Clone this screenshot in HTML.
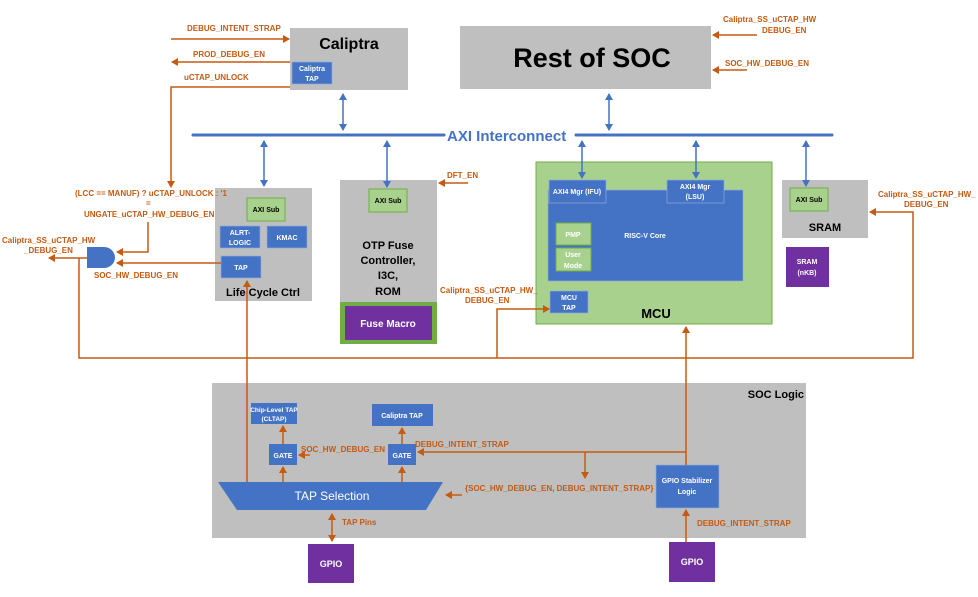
<!DOCTYPE html>
<html><head><meta charset="utf-8"><style>
body{margin:0;background:#fff}
svg{display:block;font-family:"Liberation Sans",sans-serif}
.o{fill:#c55a11;font-size:8px;font-weight:bold}
.w{fill:#fff;font-size:7px;font-weight:bold}
.k{fill:#000;font-size:7px;font-weight:bold}
</style></head><body>
<svg width="978" height="597" viewBox="0 0 978 597" xmlns="http://www.w3.org/2000/svg">
<defs>
<marker id="ao" markerWidth="8" markerHeight="8" refX="6" refY="4" orient="auto" markerUnits="userSpaceOnUse"><path d="M0,0 L7,4 L0,8 z" fill="#c55a11"/></marker>
<marker id="ab" markerWidth="8" markerHeight="8" refX="6" refY="4" orient="auto-start-reverse" markerUnits="userSpaceOnUse"><path d="M0,0 L7,4 L0,8 z" fill="#4472c4"/></marker>
<marker id="ao2" markerWidth="8" markerHeight="8" refX="6" refY="4" orient="auto-start-reverse" markerUnits="userSpaceOnUse"><path d="M0,0 L7,4 L0,8 z" fill="#c55a11"/></marker>
</defs>
<!-- SOC Logic -->
<rect x="212" y="383" width="594" height="155" fill="#bfbfbf"/>
<text x="804" y="398" text-anchor="end" style="font-size:11px;font-weight:bold">SOC Logic</text>
<!-- Caliptra -->
<rect x="290" y="28" width="118" height="62" fill="#bfbfbf"/>
<text x="349" y="49" text-anchor="middle" font-size="16" font-weight="bold">Caliptra</text>
<rect x="292" y="62" width="40" height="22" fill="#4472c4" stroke="#8faadc" stroke-width="0.7"/>
<text x="312" y="71" text-anchor="middle" class="w">Caliptra</text>
<text x="312" y="81" text-anchor="middle" class="w">TAP</text>
<!-- Rest of SOC -->
<rect x="460" y="26" width="251" height="63" fill="#bfbfbf"/>
<text x="592" y="67" text-anchor="middle" font-size="27" font-weight="bold">Rest of SOC</text>
<!-- AXI bus -->
<line x1="193" y1="135" x2="444" y2="135" stroke="#4472c4" stroke-width="3" stroke-linecap="round"/>
<line x1="576" y1="135" x2="832" y2="135" stroke="#4472c4" stroke-width="3" stroke-linecap="round"/>
<text x="447" y="141" font-size="15" font-weight="bold" fill="#4472c4">AXI Interconnect</text>
<!-- LCC -->
<rect x="215" y="188" width="97" height="113" fill="#bfbfbf"/>
<rect x="247" y="198" width="38" height="23" fill="#a9d18e" stroke="#70ad47"/>
<text x="266" y="212" text-anchor="middle" class="k">AXI Sub</text>
<rect x="220" y="226" width="40" height="22" fill="#4472c4" stroke="#8faadc" stroke-width="0.7"/>
<text x="240" y="235" text-anchor="middle" class="w">ALRT-</text>
<text x="240" y="245" text-anchor="middle" class="w">LOGIC</text>
<rect x="267" y="226" width="40" height="22" fill="#4472c4" stroke="#8faadc" stroke-width="0.7"/>
<text x="287" y="240" text-anchor="middle" class="w">KMAC</text>
<rect x="221" y="256" width="40" height="22" fill="#4472c4" stroke="#8faadc" stroke-width="0.7"/>
<text x="241" y="270" text-anchor="middle" class="w">TAP</text>
<text x="263" y="296" text-anchor="middle" font-size="11" font-weight="bold">Life Cycle Ctrl</text>
<!-- OTP -->
<rect x="340" y="180" width="97" height="122" fill="#bfbfbf"/>
<rect x="369" y="189" width="38" height="23" fill="#a9d18e" stroke="#70ad47"/>
<text x="388" y="203" text-anchor="middle" class="k">AXI Sub</text>
<g font-size="11" font-weight="bold" text-anchor="middle"><text x="388" y="249">OTP Fuse</text><text x="388" y="264">Controller,</text><text x="388" y="279">I3C,</text><text x="388" y="295">ROM</text></g>
<rect x="340" y="302" width="97" height="42" fill="#70ad47"/>
<rect x="345" y="306" width="87" height="34" fill="#7030a0"/>
<text x="388" y="327" text-anchor="middle" style="fill:#fff;font-size:10px;font-weight:bold">Fuse Macro</text>
<!-- MCU -->
<rect x="536" y="162" width="236" height="162" fill="#a9d18e" stroke="#70ad47"/>
<rect x="548" y="190" width="195" height="91" fill="#4472c4" stroke="#8faadc" stroke-width="0.7"/>
<rect x="549" y="180" width="57" height="23" fill="#4472c4" stroke="#8faadc" stroke-width="0.7"/>
<text x="577" y="194" text-anchor="middle" class="w">AXI4 Mgr (IFU)</text>
<rect x="667" y="180" width="57" height="23" fill="#4472c4" stroke="#8faadc" stroke-width="0.7"/>
<text x="695" y="189" text-anchor="middle" class="w">AXI4 Mgr</text>
<text x="695" y="199" text-anchor="middle" class="w">(LSU)</text>
<rect x="556" y="223" width="35" height="22" fill="#a9d18e" stroke="#70ad47"/>
<text x="573" y="237" text-anchor="middle" class="w">PMP</text>
<rect x="556" y="248" width="35" height="23" fill="#a9d18e" stroke="#70ad47"/>
<text x="573" y="257" text-anchor="middle" class="w">User</text>
<text x="573" y="268" text-anchor="middle" class="w">Mode</text>
<text x="645" y="238" text-anchor="middle" class="w">RISC-V Core</text>
<rect x="550" y="291" width="38" height="22" fill="#4472c4" stroke="#8faadc" stroke-width="0.7"/>
<text x="569" y="300" text-anchor="middle" class="w">MCU</text>
<text x="569" y="310" text-anchor="middle" class="w">TAP</text>
<text x="656" y="318" text-anchor="middle" font-size="13" font-weight="bold">MCU</text>
<!-- SRAM -->
<rect x="782" y="180" width="86" height="58" fill="#bfbfbf"/>
<rect x="790" y="188" width="38" height="23" fill="#a9d18e" stroke="#70ad47"/>
<text x="809" y="202" text-anchor="middle" class="k">AXI Sub</text>
<text x="825" y="231" text-anchor="middle" font-size="11" font-weight="bold">SRAM</text>
<rect x="786" y="247" width="43" height="40" fill="#7030a0"/>
<text x="807" y="264" text-anchor="middle" class="w">SRAM</text>
<text x="807" y="275" text-anchor="middle" class="w">(nKB)</text>
<!-- blue arrows -->
<g stroke="#4472c4" stroke-width="1.5" fill="none">
<line x1="343" y1="94" x2="343" y2="130" marker-start="url(#ab)" marker-end="url(#ab)"/>
<line x1="609" y1="94" x2="609" y2="130" marker-start="url(#ab)" marker-end="url(#ab)"/>
<line x1="264" y1="141" x2="264" y2="186" marker-start="url(#ab)" marker-end="url(#ab)"/>
<line x1="387" y1="141" x2="387" y2="187" marker-start="url(#ab)" marker-end="url(#ab)"/>
<line x1="582" y1="141" x2="582" y2="178" marker-start="url(#ab)" marker-end="url(#ab)"/>
<line x1="696" y1="141" x2="696" y2="178" marker-start="url(#ab)" marker-end="url(#ab)"/>
<line x1="806" y1="141" x2="806" y2="186" marker-start="url(#ab)" marker-end="url(#ab)"/>
</g>
<!-- SOC logic blocks -->
<rect x="251" y="403" width="46" height="21" fill="#4472c4"/>
<text x="274" y="412" text-anchor="middle" class="w" style="font-size:6.5px">Chip-Level TAP</text>
<text x="274" y="421" text-anchor="middle" class="w" style="font-size:6.5px">(CLTAP)</text>
<rect x="372" y="404" width="61" height="22" fill="#4472c4"/>
<text x="402" y="418" text-anchor="middle" class="w">Caliptra TAP</text>
<rect x="269" y="444" width="28" height="21" fill="#4472c4"/>
<text x="283" y="458" text-anchor="middle" class="w">GATE</text>
<rect x="388" y="444" width="28" height="21" fill="#4472c4"/>
<text x="402" y="458" text-anchor="middle" class="w">GATE</text>
<polygon points="218,482 443,482 426,510 237,510" fill="#4472c4"/>
<text x="332" y="500" text-anchor="middle" fill="#fff" font-size="12">TAP Selection</text>
<rect x="656" y="465" width="63" height="43" fill="#4472c4" stroke="#8faadc" stroke-width="0.7"/>
<text x="687" y="483" text-anchor="middle" class="w">GPIO Stabilizer</text>
<text x="687" y="494" text-anchor="middle" class="w">Logic</text>
<rect x="308" y="544" width="46" height="39" fill="#7030a0"/>
<text x="331" y="567" text-anchor="middle" style="fill:#fff;font-size:9px;font-weight:bold">GPIO</text>
<rect x="669" y="542" width="46" height="40" fill="#7030a0"/>
<text x="692" y="565" text-anchor="middle" style="fill:#fff;font-size:9px;font-weight:bold">GPIO</text>
<!-- AND gate -->
<path d="M87,247 H104 A11,10.5 0 0 1 104,268 H87 z" fill="#4472c4"/>
<!-- orange wires -->
<g stroke="#c55a11" stroke-width="1.5" fill="none">
<line x1="171" y1="39" x2="289" y2="39" marker-end="url(#ao)"/>
<line x1="290" y1="62" x2="172" y2="62" marker-end="url(#ao)"/>
<polyline points="290,87 171,87 171,187" marker-end="url(#ao)"/>
<polyline points="148,222 148,252 117,252" marker-end="url(#ao)"/>
<line x1="221" y1="263" x2="117" y2="263" marker-end="url(#ao)"/>
<line x1="87" y1="258" x2="49" y2="258" marker-end="url(#ao)"/>
<polyline points="79,258 79,358 913,358 913,212 870,212" marker-end="url(#ao)"/>
<polyline points="497,358 497,309 549,309" marker-end="url(#ao)"/>
<line x1="757" y1="35" x2="713" y2="35" marker-end="url(#ao)"/>
<line x1="747" y1="70" x2="713" y2="70" marker-end="url(#ao)"/>
<line x1="468" y1="183" x2="439" y2="183" marker-end="url(#ao)"/>
<line x1="247" y1="482" x2="247" y2="281" marker-end="url(#ao)"/>
<line x1="283" y1="482" x2="283" y2="467" marker-end="url(#ao)"/>
<line x1="283" y1="444" x2="283" y2="426" marker-end="url(#ao)"/>
<line x1="402" y1="482" x2="402" y2="467" marker-end="url(#ao)"/>
<line x1="402" y1="444" x2="402" y2="428" marker-end="url(#ao)"/>
<line x1="310" y1="455" x2="299" y2="455" marker-end="url(#ao)"/>
<polyline points="686,465 686,452 418,452" marker-end="url(#ao)"/>
<line x1="686" y1="452" x2="686" y2="327" marker-end="url(#ao)"/>
<line x1="585" y1="452" x2="585" y2="478" marker-end="url(#ao)"/>
<line x1="462" y1="495" x2="446" y2="495" marker-end="url(#ao)"/>
<line x1="332" y1="514" x2="332" y2="541" marker-start="url(#ao2)" marker-end="url(#ao2)"/>
<line x1="686" y1="542" x2="686" y2="510" marker-end="url(#ao)"/>
</g>
<!-- orange labels -->
<text x="187" y="31" class="o">DEBUG_INTENT_STRAP</text>
<text x="193" y="57" class="o">PROD_DEBUG_EN</text>
<text x="184" y="80" class="o">uCTAP_UNLOCK</text>
<text x="75" y="196" class="o">(LCC == MANUF) ? uCTAP_UNLOCK : '1</text>
<text x="146" y="206" class="o">=</text>
<text x="84" y="217" class="o">UNGATE_uCTAP_HW_DEBUG_EN</text>
<text x="2" y="243" class="o">Caliptra_SS_uCTAP_HW</text>
<text x="24" y="253" class="o">_DEBUG_EN</text>
<text x="94" y="278" class="o">SOC_HW_DEBUG_EN</text>
<text x="723" y="22" class="o">Caliptra_SS_uCTAP_HW</text>
<text x="762" y="33" class="o">DEBUG_EN</text>
<text x="725" y="66" class="o">SOC_HW_DEBUG_EN</text>
<text x="447" y="178" class="o">DFT_EN</text>
<text x="440" y="293" class="o">Caliptra_SS_uCTAP_HW_</text>
<text x="465" y="303" class="o">DEBUG_EN</text>
<text x="878" y="197" class="o">Caliptra_SS_uCTAP_HW_</text>
<text x="904" y="207" class="o">DEBUG_EN</text>
<text x="301" y="452" class="o">SOC_HW_DEBUG_EN</text>
<text x="415" y="447" class="o">DEBUG_INTENT_STRAP</text>
<text x="465" y="491" class="o">{SOC_HW_DEBUG_EN, DEBUG_INTENT_STRAP}</text>
<text x="342" y="525" class="o">TAP Pins</text>
<text x="697" y="526" class="o">DEBUG_INTENT_STRAP</text>
</svg>
</body></html>
